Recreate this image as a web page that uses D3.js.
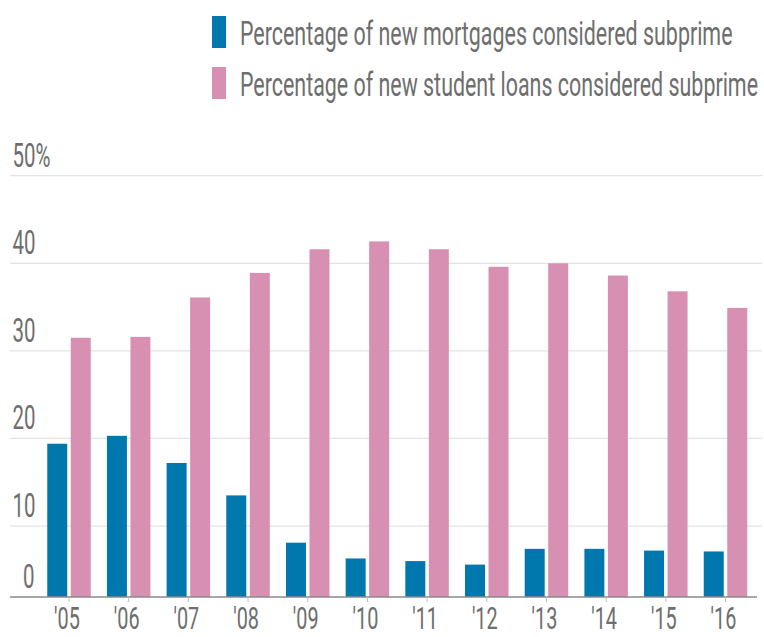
<!DOCTYPE html>
<html>
<head>
<meta charset="utf-8">
<script src="https://cdn.jsdelivr.net/npm/d3@7"></script>
<style>
    html, body { margin: 0; padding: 0; background: #fff; }
    #chart { width: 764px; height: 637px; }
    text { font-family: Roboto, "Noto Sans", sans-serif; fill: #6e6e6e; }
</style>
</head>
<body>
<div id="chart"></div>
<script>
const years = ["'05", "'06", "'07", "'08", "'09", "'10", "'11", "'12", "'13", "'14", "'15", "'16"]
const mortgages = [19.4, 20.3, 17.2, 13.5, 8.1, 6.3, 6.0, 5.6, 7.4, 7.4, 7.2, 7.1]
const studentLoans = [31.5, 31.6, 36.1, 38.9, 41.6, 42.5, 41.6, 39.6, 40.0, 38.6, 36.8, 34.9]
const seriesNames = ["Percentage of new mortgages considered subprime", "Percentage of new student loans considered subprime"]
const seriesKeys = ["mortgages", "student"]
const yTicks = [0, 10, 20, 30, 40, 50]

const colors = { mortgages: "#0078ad", student: "#d890b2" }
const width = 764
const height = 637

const svg = d3.select("#chart")
    .append("svg")
    .attr("width", width)
    .attr("height", height)

// the baseline sits a little above the zero of the gridline scale
var yScale = d3.scaleLinear()
    .domain([1.9, 50])
    .range([597, 175.7])
const baseY = yScale.range()[0]

var xScale = d3.scalePoint()
    .domain(years)
    .range([69, 725.5])
var innerScale = d3.scaleBand()
    .domain(seriesKeys)
    .range([-21.75, 21.75])
    .paddingInner(0.15)

// narrow face: squeeze a normal one sideways
function squeezed(sel, x, y, sx) {
    return sel.attr("transform", "translate(" + x + "," + y + ") scale(" + sx + ",1)")
}

// gridlines
yTicks.filter(d => d > 0).forEach(t => {
    svg.append("line")
        .attr("x1", 10)
        .attr("x2", 762)
        .attr("y1", yScale(t))
        .attr("y2", yScale(t))
        .style("stroke", "#e3e3e3")
        .style("stroke-width", 1.2)
})

// y labels
yTicks.forEach(t => {
    var ty = t === 0 ? baseY : yScale(t)
    var label = t === 50 ? "50%" : String(t)
    squeezed(svg.append("text"), t === 0 ? 23 : 12.5, ty - 9, 0.62)
        .text(label)
        .style("font-size", "33px")
})

// bars
years.forEach((yr, i) => {
    var vals = { mortgages: mortgages[i], student: studentLoans[i] }
    seriesKeys.forEach(k => {
        svg.append("rect")
            .attr("x", xScale(yr) + innerScale(k))
            .attr("y", yScale(vals[k]))
            .attr("width", innerScale.bandwidth())
            .attr("height", baseY - yScale(vals[k]))
            .style("fill", colors[k])
    })
})

// baseline and ticks
svg.append("line")
    .attr("x1", 10)
    .attr("x2", 757)
    .attr("y1", baseY)
    .attr("y2", baseY)
    .style("stroke", "#8a8a8a")
    .style("stroke-width", 1.3)

years.forEach(yr => {
    svg.append("line")
        .attr("x1", xScale(yr))
        .attr("x2", xScale(yr))
        .attr("y1", baseY)
        .attr("y2", baseY + 5)
        .style("stroke", "#bdbdbd")
        .style("stroke-width", 1)
    squeezed(svg.append("text"), xScale(yr) - 2, 629, 0.64)
        .attr("text-anchor", "middle")
        .text(yr)
        .style("font-size", "31px")
})

// legend
seriesKeys.forEach((k, i) => {
    var top = 16 + i * 51
    svg.append("rect")
        .attr("x", 212)
        .attr("y", top)
        .attr("width", 14)
        .attr("height", 32)
        .style("fill", colors[k])
    squeezed(svg.append("text"), 240, top + 29, 0.63)
        .text(seriesNames[i])
        .style("font-size", "34px")
})
</script>
</body>
</html>
